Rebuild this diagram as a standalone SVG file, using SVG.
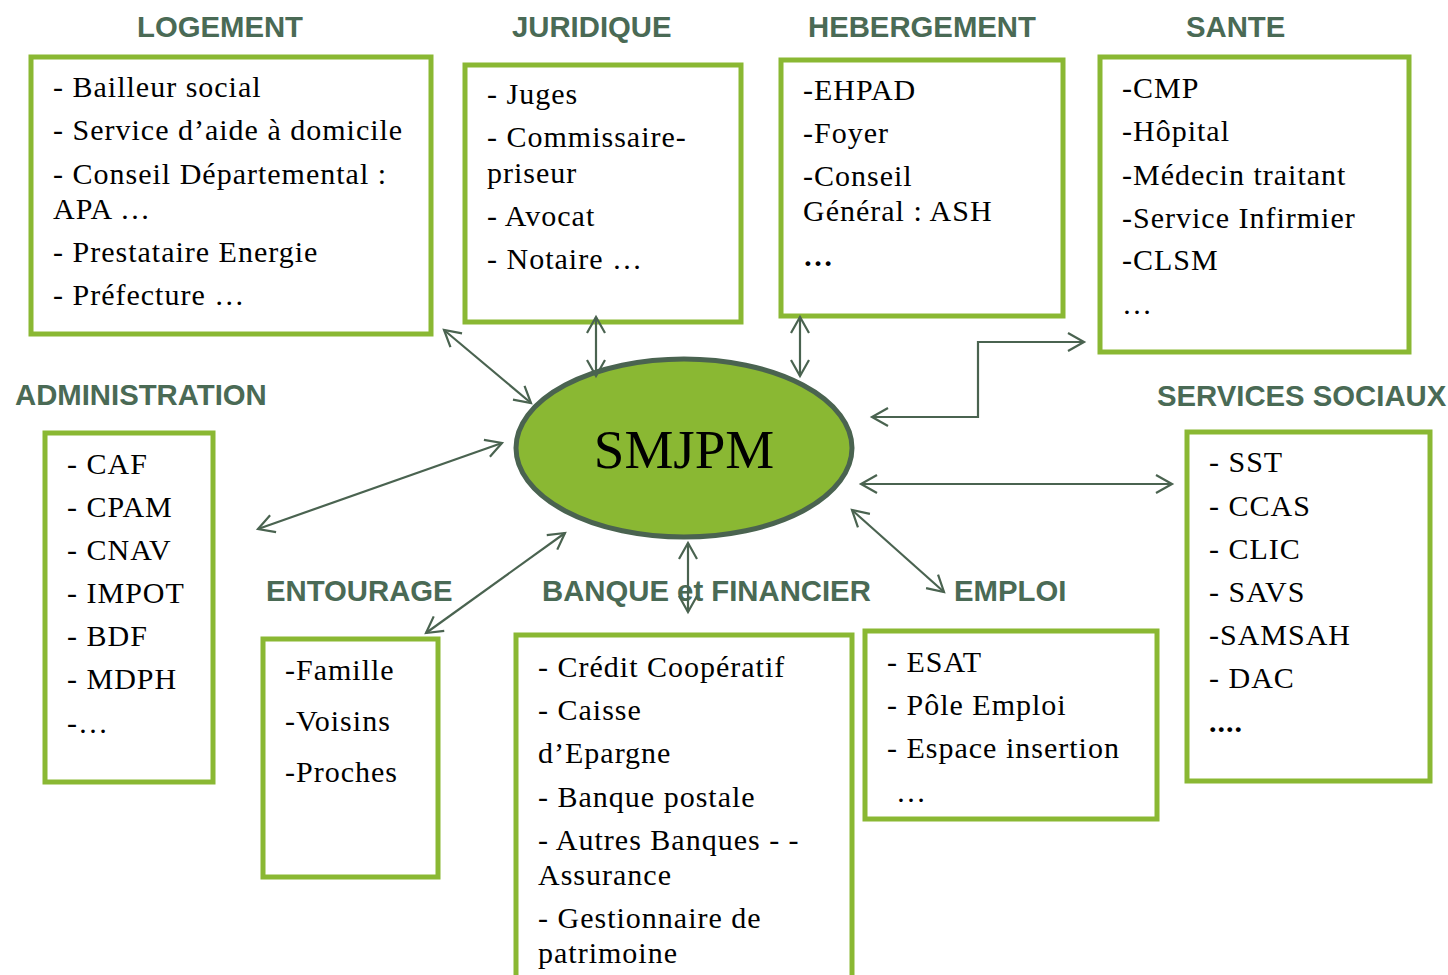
<svg xmlns="http://www.w3.org/2000/svg" width="1448" height="975" viewBox="0 0 1448 975">
<style>
.box{fill:#fff;stroke:#8ab833;stroke-width:5}
.t{font-family:"Liberation Serif","Times New Roman",serif;font-size:30px;letter-spacing:1px;fill:#000}
.b{font-weight:bold}
.h{font-family:"Liberation Sans",Arial,sans-serif;font-weight:bold;font-size:29.3px;fill:#4a6a55}
.c{fill:none;stroke:#4a6350;stroke-width:2.2;marker-start:url(#ah);marker-end:url(#ah)}
</style>
<defs>
<marker id="ah" markerUnits="userSpaceOnUse" viewBox="-20 -12 24 24" refX="0" refY="0" markerWidth="24" markerHeight="24" orient="auto-start-reverse">
<path d="M-16,-9 L0,0 L-16,9" fill="none" stroke="#4a6350" stroke-width="2.2"/>
</marker>
</defs>
<rect width="1448" height="975" fill="#fff"/>

<g id="logement">
<text class="h" x="137" y="37">LOGEMENT</text>
<rect class="box" x="31" y="57" width="400" height="277"/>
<text class="t" x="53" y="97">- Bailleur social</text>
<text class="t" x="53" y="140">- Service d’aide à domicile</text>
<text class="t" x="53" y="184">- Conseil Départemental :</text>
<text class="t" x="53" y="219">APA …</text>
<text class="t" x="53" y="262">- Prestataire Energie</text>
<text class="t" x="53" y="305">- Préfecture …</text>
</g>

<g id="juridique">
<text class="h" x="512" y="37">JURIDIQUE</text>
<rect class="box" x="465" y="65" width="276" height="257"/>
<text class="t" x="487" y="104">- Juges</text>
<text class="t" x="487" y="147">- Commissaire-</text>
<text class="t" x="487" y="183">priseur</text>
<text class="t" x="487" y="226">- Avocat</text>
<text class="t" x="487" y="269">- Notaire …</text>
</g>

<g id="hebergement">
<text class="h" x="808" y="37">HEBERGEMENT</text>
<rect class="box" x="781" y="60" width="282" height="256"/>
<text class="t" x="803" y="100">-EHPAD</text>
<text class="t" x="803" y="143">-Foyer</text>
<text class="t" x="803" y="186">-Conseil</text>
<text class="t" x="803" y="221">Général : ASH</text>
<text class="t b" x="803" y="266">…</text>
</g>

<g id="sante">
<text class="h" x="1186" y="37">SANTE</text>
<rect class="box" x="1100" y="57" width="309" height="295"/>
<text class="t" x="1122" y="98">-CMP</text>
<text class="t" x="1122" y="141">-Hôpital</text>
<text class="t" x="1122" y="185">-Médecin traitant</text>
<text class="t" x="1122" y="228">-Service Infirmier</text>
<text class="t" x="1122" y="270">-CLSM</text>
<text class="t" x="1122" y="314">…</text>
</g>

<g id="administration">
<text class="h" x="15" y="405">ADMINISTRATION</text>
<rect class="box" x="45" y="433" width="168" height="349"/>
<text class="t" x="67" y="474">- CAF</text>
<text class="t" x="67" y="517">- CPAM</text>
<text class="t" x="67" y="560">- CNAV</text>
<text class="t" x="67" y="603">- IMPOT</text>
<text class="t" x="67" y="646">- BDF</text>
<text class="t" x="67" y="689">- MDPH</text>
<text class="t" x="67" y="733">-…</text>
</g>

<g id="services-sociaux">
<text class="h" x="1157" y="406">SERVICES SOCIAUX</text>
<rect class="box" x="1187" y="432" width="243" height="349"/>
<text class="t" x="1209" y="472">- SST</text>
<text class="t" x="1209" y="516">- CCAS</text>
<text class="t" x="1209" y="559">- CLIC</text>
<text class="t" x="1209" y="602">- SAVS</text>
<text class="t" x="1209" y="645">-SAMSAH</text>
<text class="t" x="1209" y="688">- DAC</text>
<text class="t b" x="1209" y="732">....</text>
</g>

<g id="entourage">
<text class="h" x="266" y="601">ENTOURAGE</text>
<rect class="box" x="263" y="639" width="175" height="238"/>
<text class="t" x="285" y="680">-Famille</text>
<text class="t" x="285" y="731">-Voisins</text>
<text class="t" x="285" y="782">-Proches</text>
</g>

<g id="banque">
<text class="h" x="542" y="601">BANQUE et FINANCIER</text>
<rect class="box" x="516" y="635" width="336" height="380"/>
<text class="t" x="538" y="677">- Crédit Coopératif</text>
<text class="t" x="538" y="720">- Caisse</text>
<text class="t" x="538" y="763">d’Epargne</text>
<text class="t" x="538" y="807">- Banque postale</text>
<text class="t" x="538" y="850">- Autres Banques - -</text>
<text class="t" x="538" y="885">Assurance</text>
<text class="t" x="538" y="928">- Gestionnaire de</text>
<text class="t" x="538" y="963">patrimoine</text>
</g>

<g id="emploi">
<text class="h" x="954" y="601">EMPLOI</text>
<rect class="box" x="865" y="631" width="292" height="188"/>
<text class="t" x="887" y="672">- ESAT</text>
<text class="t" x="887" y="715">- Pôle Emploi</text>
<text class="t" x="887" y="758">- Espace insertion</text>
<text class="t" x="896" y="802">…</text>
</g>

<g id="smjpm">
<ellipse cx="684" cy="448" rx="168" ry="89" fill="#8ab833" stroke="#4a6350" stroke-width="5"/>
<text x="684" y="468" text-anchor="middle" font-family="Liberation Serif, Times New Roman, serif" font-size="55" fill="#000">SMJPM</text>
</g>

<g id="connectors">
<path class="c" d="M444,330 L531,403"/>
<path class="c" d="M596,317 L596,376"/>
<path class="c" d="M800,317 L800,376"/>
<path class="c" d="M872,417 L978,417 L978,342 L1084,342"/>
<path class="c" d="M861,484 L1172,484"/>
<path class="c" d="M852,510 L944,592"/>
<path class="c" d="M688,543 L688,612"/>
<path class="c" d="M565,533 L426,633"/>
<path class="c" d="M502,443 L258,529"/>
</g>
</svg>
